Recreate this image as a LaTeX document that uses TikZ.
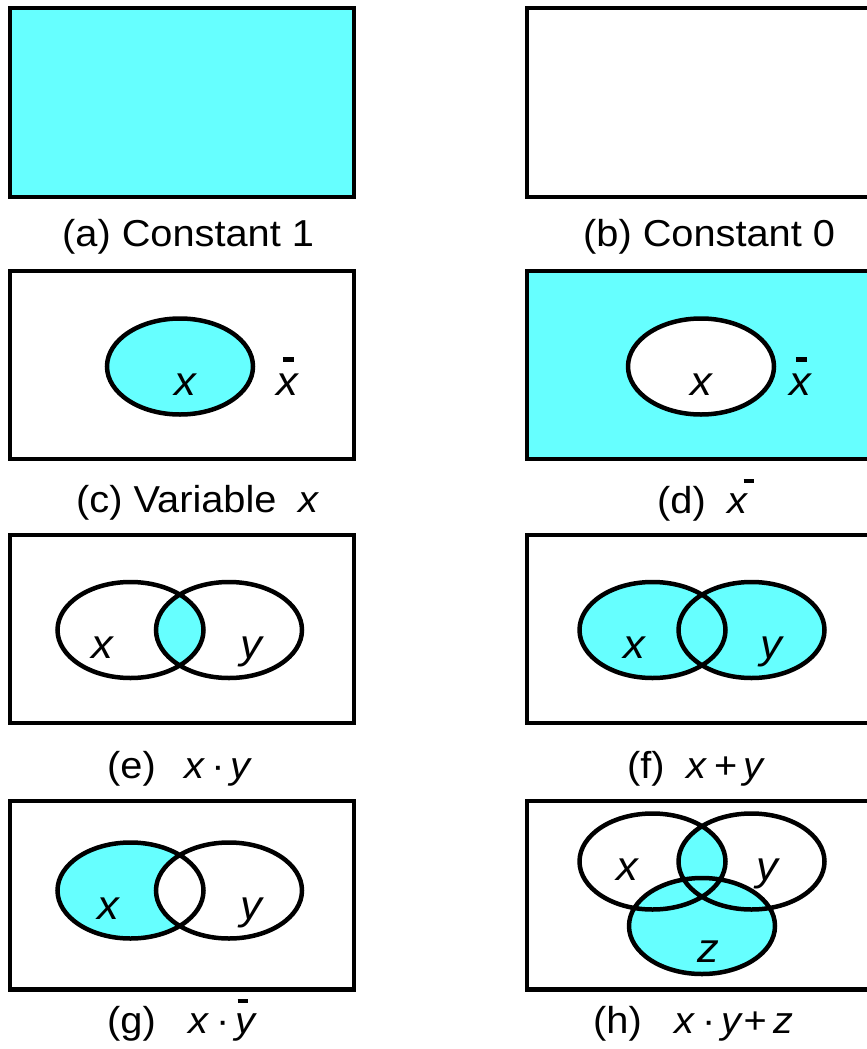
\documentclass[tikz,border=0pt]{standalone}
\usepackage{fontspec}
\setmainfont{Liberation Sans}[FakeStretch=1.06]
\usepackage{xcolor}
\definecolor{cVenn}{HTML}{66FFFF}
\usepackage{tikz}
\usetikzlibrary{positioning}
% bar over a letter (complement)
\newcommand\negbar[2][0.15em]{\leavevmode\rlap{\hspace{#1}\rule[0.8em]{0.28em}{0.12em}}\textit{#2}}
\tikzset{
  panel/.style={line width=4.5pt,draw=black},
  set-line/.style={line width=4.5pt,draw=black},
  set-fill/.style={fill=cVenn},
  set-r/.style={x radius=73pt,y radius=48pt},
  cap-text/.style={anchor=base west,inner sep=0pt,font=\fontsize{37.5}{44}\selectfont},
  set-label/.style={anchor=base,inner sep=0pt,font=\fontsize{41}{48}\selectfont\itshape},
}
\begin{document}
\begin{tikzpicture}[x=1pt,y=-1pt]
  \useasboundingbox (0,0) rectangle (867,1049);
  % row 1
  \filldraw[panel,fill=cVenn] (10,8) rectangle ++(344,189);
  \draw[panel]                (527,8) rectangle ++(344,189);
  \node[cap-text] (capa) at (62,246)  {(a) Constant 1};
  \node[cap-text] (capb) at (583,246) {(b) Constant 0};
  % row 2
  \draw[panel]                (10,271) rectangle ++(344,188);
  \filldraw[panel,fill=cVenn] (527,271) rectangle ++(344,188);
  \coordinate (cx) at (180,366.5);
  \coordinate (dx) at (701,366.5);
  \filldraw[set-line,set-fill] (cx) ellipse [set-r];
  \filldraw[set-line,fill=white] (dx) ellipse [set-r];
  \node[set-label] (cxl)  at (185,395)   {x};
  \node[set-label] (cxn)  at (287.5,395) {\negbar{x}};
  \node[set-label] (dxl)  at (701.5,395) {x};
  \node[set-label] (dxn)  at (800.5,395) {\negbar{x}};
  \node[cap-text] (capc) at (76,512)  {(c) Variable\ \ \textit{x}};
  \node[cap-text] (capd) at (657,513) {(d)\ \ \negbar[0.42em]{x}};
  % row 3
  \draw[panel] (10,535) rectangle ++(344,188);
  \draw[panel] (527,535) rectangle ++(344,188);
  \coordinate (ex) at (130.5,630);
  \coordinate (ey) at (229,630);
  \coordinate (fx) at (652.5,630);
  \coordinate (fy) at (751.5,630);
  \begin{scope}
    \clip (ex) ellipse [set-r];
    \fill[set-fill] (ey) ellipse [set-r];
  \end{scope}
  \fill[set-fill] (fx) ellipse [set-r] (fy) ellipse [set-r];
  \draw[set-line] (ex) ellipse [set-r] (ey) ellipse [set-r];
  \draw[set-line] (fx) ellipse [set-r] (fy) ellipse [set-r];
  \node[set-label] (exl) at (102,658)   {x};
  \node[set-label] (eyl) at (251.5,658) {y};
  \node[set-label] (fxl) at (634,658)   {x};
  \node[set-label] (fyl) at (771.5,658) {y};
  \node[cap-text] (cape) at (107,778) {(e)\ \ \,\textit{x}\,·\,\textit{y}};
  \node[cap-text] (capf) at (627,778) {(f)\ \ \textit{x}\,+\,\textit{y}};
  % row 4
  \draw[panel] (10,801) rectangle ++(344,188.5);
  \draw[panel] (527,801) rectangle ++(344,188.5);
  \coordinate (gx) at (130.5,890.5);
  \coordinate (gy) at (229,890.5);
  \coordinate (hx) at (652.5,861.5);
  \coordinate (hy) at (751.5,861.5);
  \coordinate (hz) at (702,926);
  \fill[set-fill] (gx) ellipse [set-r];
  \begin{scope}
    \clip (gx) ellipse [set-r];
    \fill[white] (gy) ellipse [set-r];
  \end{scope}
  \draw[set-line] (gx) ellipse [set-r] (gy) ellipse [set-r];
  \fill[set-fill] (hz) ellipse [set-r];
  \begin{scope}
    \clip (hx) ellipse [set-r];
    \fill[set-fill] (hy) ellipse [set-r];
  \end{scope}
  \draw[set-line] (hx) ellipse [set-r] (hy) ellipse [set-r] (hz) ellipse [set-r];
  \node[set-label] (gxl) at (108,919)   {x};
  \node[set-label] (gyl) at (251.5,919) {y};
  \node[set-label] (hxl) at (627,880)   {x};
  \node[set-label] (hyl) at (767,880)   {y};
  \node[set-label] (hzl) at (708,962)   {z};
  \node[cap-text] (capg) at (107,1033) {(g)\ \ \ \textit{x}\,·\,\negbar[0.05em]{y}};
  \node[cap-text] (caph) at (593,1033) {(h)\ \ \ \textit{x}\,·\,\textit{y}+\,\textit{z}};
\end{tikzpicture}
\end{document}
